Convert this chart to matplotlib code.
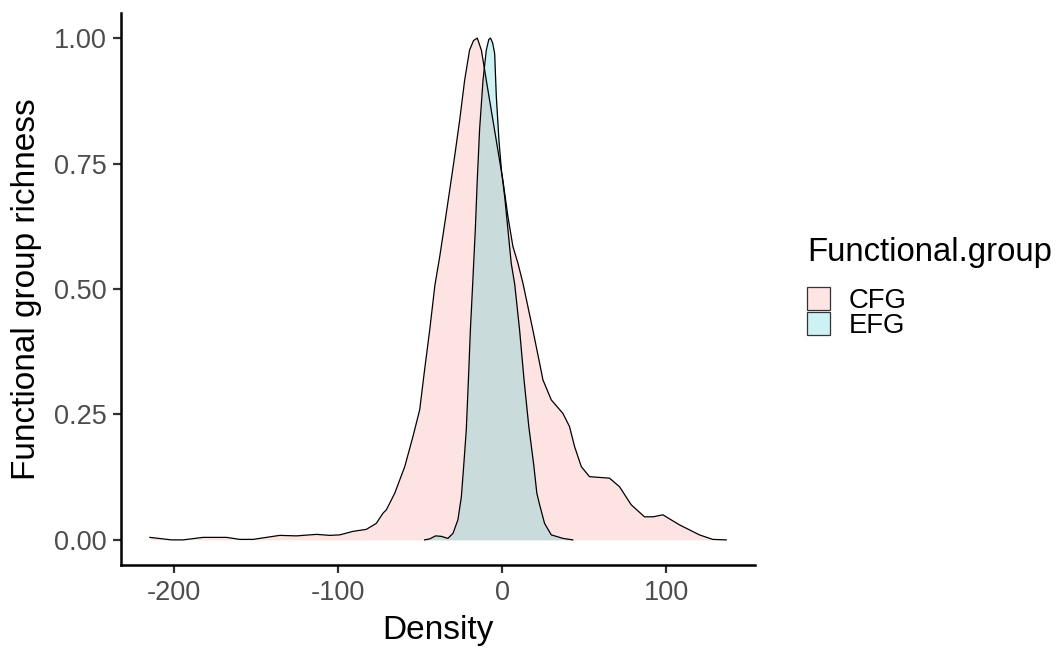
import matplotlib.pyplot as plt
from matplotlib.patches import Patch

plt.rcParams['font.family'] = ['Liberation Sans', 'DejaVu Sans']

# curves (x, scaled density)
cfg_x = [-214.7, -201.5, -194.5, -182.3, -168.0, -160.0, -151.8, -135.6, -125.4,
         -113.2, -105.1, -99.0, -90.9, -82.8, -76.7, -72.7, -70.6, -67.5, -65.5,
         -59.4, -54.4, -50.3, -47.3, -44.2, -41.0, -38.1, -35.0, -32.0, -29.0,
         -25.9, -22.9, -19.9, -17.5, -15.2, -12.7, -9.7, -5.7, -2.0, 0.4, 3.5,
         6.5, 9.6, 12.6, 18.7, 22.8, 24.8, 29.9, 37.0, 41.0, 44.1, 48.2, 53.2,
         65.4, 71.5, 78.6, 86.7, 92.0, 97.9, 108.0, 120.2, 128.3, 136.5]
cfg_y = [0.005, 0.0, 0.0, 0.005, 0.005, 0.001, 0.001, 0.009, 0.008,
         0.011, 0.009, 0.010, 0.017, 0.021, 0.033, 0.053, 0.060, 0.080, 0.093,
         0.146, 0.206, 0.259, 0.339, 0.418, 0.508, 0.564, 0.631, 0.697, 0.764,
         0.837, 0.916, 0.976, 0.995, 1.0, 0.976, 0.916, 0.837, 0.764, 0.717, 0.644,
         0.585, 0.551, 0.512, 0.418, 0.352, 0.319, 0.279, 0.252, 0.226, 0.186, 0.146, 0.126,
         0.123, 0.106, 0.070, 0.046, 0.046, 0.050, 0.030, 0.010, 0.001, 0.0]

efg_x = [-47.3, -44.2, -40.6, -37.1, -33.1, -30.0, -27.0, -24.9, -23.5, -21.9,
         -20.6, -19.4, -18.0, -16.4, -15.2, -13.8, -11.7, -9.7, -8.2, -7.1, -5.8,
         -4.6, -3.6, -2.0, -0.5, 1.5, 3.5, 5.5, 7.6, 10.6, 13.3, 16.2, 19.2,
         21.1, 22.8, 25.8, 29.9, 37.0, 43.0]
efg_y = [0.0, 0.002, 0.008, 0.007, 0.003, 0.013, 0.040, 0.086, 0.146, 0.219,
         0.319, 0.418, 0.510, 0.618, 0.717, 0.817, 0.916, 0.976, 0.997, 1.0, 0.99,
         0.969, 0.884, 0.797, 0.737, 0.684, 0.618, 0.551, 0.510, 0.418, 0.319, 0.226, 0.150,
         0.093, 0.070, 0.033, 0.010, 0.003, 0.0]

groups = ['CFG', 'EFG']
colors = ['#F8766D', '#00BFC4']
# the same fills at alpha 0.2 on white, for the legend keys
key_colors = ['#FEE4E2', '#CCF2F3']

fig = plt.figure(figsize=(10.59, 6.5), dpi=100)
ax = fig.add_axes([0.1143, 0.1308, 0.5987, 0.8492])

for xs, ys, c in [(cfg_x, cfg_y, colors[0]), (efg_x, efg_y, colors[1])]:
    ax.fill_between(xs, 0, ys, color=c, alpha=0.2, linewidth=0)
    ax.plot(xs, ys, color='black', linewidth=0.9)

ax.set_xlim(-232.3, 154.1)
ax.set_ylim(-0.05, 1.05)
ax.set_xticks([-200, -100, 0, 100])
ax.set_xticklabels(['-200', '-100', '0', '100'])
ax.set_yticks([0, 0.25, 0.5, 0.75, 1.0])
ax.set_yticklabels(['0.00', '0.25', '0.50', '0.75', '1.00'])

for s in ['top', 'right']:
    ax.spines[s].set_visible(False)
for s in ['left', 'bottom']:
    ax.spines[s].set_linewidth(1.8)
ax.tick_params(length=6, width=1.6, color='#333333', labelcolor='#4D4D4D',
               labelsize=19.5, pad=4.5)

ax.set_xlabel('Density', fontsize=24, labelpad=7)
ax.set_ylabel('Functional group richness', fontsize=24, labelpad=8)

# legend: title as separate text so the gap to the keys matches ggplot
handles = [Patch(facecolor=k, edgecolor='#333333', linewidth=0.9) for k in key_colors]
fig.legend(handles, groups, loc='upper left',
           bbox_to_anchor=(807 / 1059, 1 - 287 / 650), frameon=False, fontsize=19.8,
           handlelength=0.84, handleheight=0.91, handletextpad=0.69,
           labelspacing=-0.07, borderpad=0, borderaxespad=0)
fig.text(807 / 1059, 1 - 261 / 650, 'Functional.group', fontsize=23.7,
         ha='left', va='baseline')

fig.savefig('out.png', dpi=100)
